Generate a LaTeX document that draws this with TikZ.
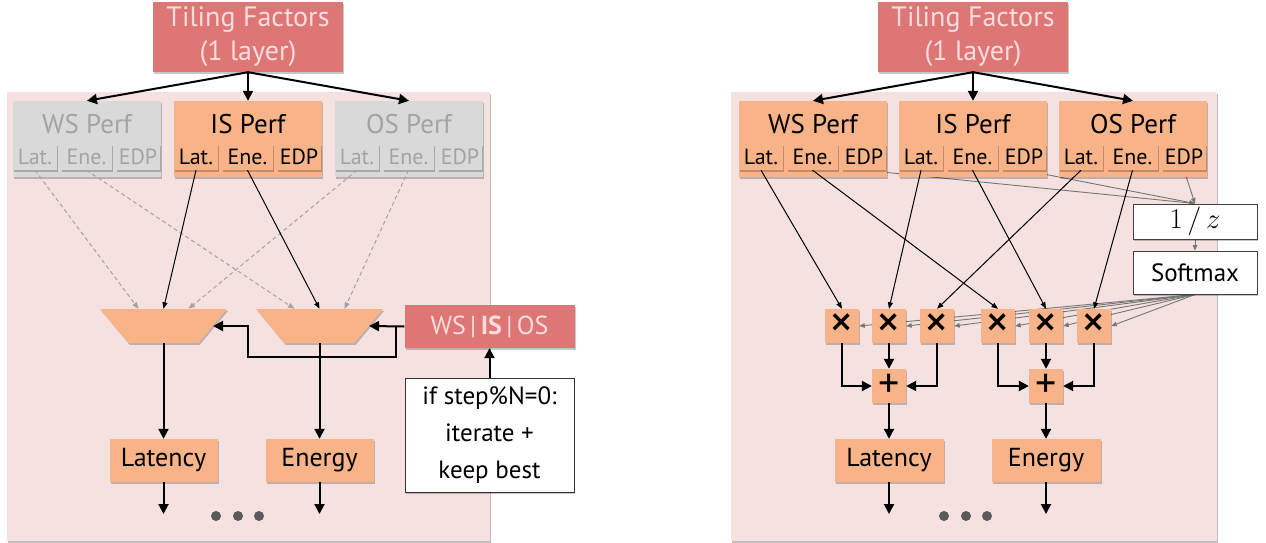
\documentclass[tikz,border=0pt]{standalone}
\usepackage[no-math]{fontspec}
\setmainfont{PT Sans}
\usetikzlibrary{positioning,arrows.meta,shapes.geometric,shadows,calc,backgrounds}

\definecolor{tilered}{HTML}{DD7675}
\definecolor{tiletext}{HTML}{FADDDC}
\definecolor{peach}{HTML}{F8B488}
\definecolor{panelbg}{HTML}{F4E1E0}
\definecolor{offfill}{HTML}{D9D9D9}
\definecolor{offtext}{HTML}{A3A3A3}
\definecolor{wiregray}{HTML}{767676}
\definecolor{dotgray}{HTML}{5A5A5A}

\tikzset{
  box/.style={inner sep=0pt, drop shadow={shadow xshift=1.2pt, shadow yshift=-1.8pt, opacity=0.22, fill=black}},
  tiling/.style={box, fill=tilered, text=tiletext, minimum width=190pt, minimum height=70pt, align=center, font=\fontsize{28}{34}\selectfont},
  perf/.style={box, fill=peach, minimum width=148pt, minimum height=76pt},
  perfoff/.style={perf, fill=offfill},
  perftitle/.style={inner sep=0pt, font=\fontsize{27}{32}\selectfont},
  metric/.style={box, fill=peach, minimum height=26pt, font=\fontsize{22}{26}\selectfont},
  metricoff/.style={metric, fill=offfill, text=offtext},
  narrow/.style={minimum width=44pt},
  wide/.style={minimum width=51pt},
  mux/.style={box, inner sep=3pt, fill=peach, trapezium, shape border rotate=180, trapezium stretches=true, trapezium angle=68, minimum width=127pt, minimum height=34pt},
  result/.style={box, fill=peach, minimum width=108pt, minimum height=43pt, font=\fontsize{26}{30}\selectfont},
  select/.style={box, fill=tilered, text=tiletext, minimum width=170pt, minimum height=43pt, font=\fontsize{26}{30}\selectfont},
  note/.style={box, fill=white, draw=black!80, line width=1pt, minimum width=169pt, minimum height=114pt, align=center, font=\fontsize{25}{37}\selectfont},
  op/.style={box, fill=peach, minimum size=34pt},
  mul/.style={op, font=\fontsize{48}{48}\selectfont},
  add/.style={op, font=\fontsize{42}{42}\selectfont},
  calcbox/.style={box, fill=white, draw=black!75, line width=1pt, minimum width=124pt, font=\fontsize{25}{30}\selectfont},
  bigarrow/.style={-{Triangle[width=10pt,length=10pt]}, line width=2pt},
  wire/.style={-{Triangle[width=5pt,length=6.5pt]}, line width=1pt},
  offwire/.style={wire, draw=offtext, dash pattern=on 4pt off 3pt},
  graywire/.style={-{Triangle[width=4.5pt,length=5.5pt]}, draw=wiregray, line width=0.9pt},
  panel/.style={fill=panelbg, drop shadow={shadow xshift=1.2pt, shadow yshift=-1.5pt, opacity=0.25, fill=black}}
}

\begin{document}
\begin{tikzpicture}[x=1pt, y=-1pt]
\useasboundingbox (0,0) rectangle (1266,543);

% ---- left: one dataflow picked per step ----
\node (tfL) [tiling] at (248,37) {Tiling Factors\\(1 layer)};

\node (wsL) [perfoff] at (87,139) {};
\node (wsLt) [perftitle, text=offtext] at (87,124) {WS Perf};
\node (wsLlat) [metricoff, narrow] at (35,157) {Lat.};
\node (wsLene) [metricoff, wide] at (86.5,157) {Ene.};
\node (wsLedp) [metricoff, narrow] at (138,157) {EDP};

\node (isL) [perf] at (248,139) {};
\node (isLt) [perftitle] at (248,124) {IS Perf};
\node (isLlat) [metric, narrow] at (196,157) {Lat.};
\node (isLene) [metric, wide] at (247.5,157) {Ene.};
\node (isLedp) [metric, narrow] at (299,157) {EDP};

\node (osL) [perfoff] at (409,139) {};
\node (osLt) [perftitle, text=offtext] at (409,124) {OS Perf};
\node (osLlat) [metricoff, narrow] at (357,157) {Lat.};
\node (osLene) [metricoff, wide] at (408.5,157) {Ene.};
\node (osLedp) [metricoff, narrow] at (460,157) {EDP};

\node (muxA) [mux] at (163.5,326) {};
\node (muxB) [mux] at (319.5,326) {};
\node (selL) [select] at (489.5,326.5) {WS\,|\,\textbf{IS}\,|\,OS};
\node (ifL) [note] at (489.5,435) {if step\%N=0:\\iterate +\\keep best};

\node (latL) [result] at (163.5,460.5) {Latency};
\node (enL) [result] at (319.5,460.5) {Energy};

\coordinate (fbL) at (396,326.5);
\coordinate (fbTurn) at (248,357);
\coordinate (latLout) at (163.5,514);
\coordinate (enLout) at (319.5,514);

\draw [bigarrow] (tfL.south) -- (wsL.north);
\draw [bigarrow] (tfL.south) -- (isL.north);
\draw [bigarrow] (tfL.south) -- (osL.north);

\draw [offwire] (wsLlat.south) -- ($(muxA.north)+(-25,0)$);
\draw [offwire] (wsLene.south) -- ($(muxB.north)+(-25,0)$);
\draw [offwire] (osLlat.south) -- ($(muxA.north)+(25,0)$);
\draw [offwire] (osLene.south) -- ($(muxB.north)+(25,0)$);
\draw [wire] (isLlat.south) -- (muxA.north);
\draw [wire] (isLene.south) -- (muxB.north);

\draw [bigarrow] (selL.west) -- (muxB.east);
\draw [bigarrow] (fbL) |- (fbTurn) |- (muxA.east);
\draw [bigarrow] (ifL.north) -- (selL.south);

\draw [bigarrow] (muxA.south) -- (latL.north);
\draw [bigarrow] (muxB.south) -- (enL.north);
\draw [bigarrow] (latL.south) -- (latLout);
\draw [bigarrow] (enL.south) -- (enLout);

\fill [dotgray] (216,516) circle (5) (238,516) circle (5) (259,516) circle (5);

% ---- right: soft mix of all three dataflows ----
\node (tfR) [tiling] at (973,37) {Tiling Factors\\(1 layer)};

\node (wsR) [perf] at (813,139) {};
\node (wsRt) [perftitle] at (813,124) {WS Perf};
\node (wsRlat) [metric, narrow] at (761,157) {Lat.};
\node (wsRene) [metric, wide] at (812.5,157) {Ene.};
\node (wsRedp) [metric, narrow] at (864,157) {EDP};

\node (isR) [perf] at (973,139) {};
\node (isRt) [perftitle] at (973,124) {IS Perf};
\node (isRlat) [metric, narrow] at (921,157) {Lat.};
\node (isRene) [metric, wide] at (972.5,157) {Ene.};
\node (isRedp) [metric, narrow] at (1024,157) {EDP};

\node (osR) [perf] at (1133,139) {};
\node (osRt) [perftitle] at (1133,124) {OS Perf};
\node (osRlat) [metric, narrow] at (1081,157) {Lat.};
\node (osRene) [metric, wide] at (1132.5,157) {Ene.};
\node (osRedp) [metric, narrow] at (1184,157) {EDP};

\node (invz) [calcbox, minimum height=35pt] at (1195,221.5) {\scalebox{1.15}{$1\,/\,z$}};
\node (soft) [calcbox, minimum height=43pt] at (1195,272.5) {Softmax};

\node (m1) [mul] at (842,326) {×};
\node (m2) [mul] at (889,326) {×};
\node (m3) [mul] at (937,326) {×};
\node (m4) [mul] at (998,326) {×};
\node (m5) [mul] at (1046,326) {×};
\node (m6) [mul] at (1094,326) {×};
\node (p1) [add] at (889,386) {+};
\node (p2) [add] at (1046,386) {+};

\node (latR) [result, minimum width=109pt] at (889,460.5) {Latency};
\node (enR) [result, minimum width=109pt] at (1046,460.5) {Energy};

\coordinate (latRout) at (889,514);
\coordinate (enRout) at (1046,514);

\draw [bigarrow] (tfR.south) -- (wsR.north);
\draw [bigarrow] (tfR.south) -- (isR.north);
\draw [bigarrow] (tfR.south) -- (osR.north);

\draw [wire] (wsRlat.south) -- (m1.north);
\draw [wire] (isRlat.south) -- (m2.north);
\draw [wire] (osRlat.south) -- (m3.north);
\draw [wire] (wsRene.south) -- (m4.north);
\draw [wire] (isRene.south) -- (m5.north);
\draw [wire] (osRene.south) -- (m6.north);

\draw [bigarrow] (m1.south) |- (p1.west);
\draw [bigarrow] (m2.south) -- (p1.north);
\draw [bigarrow] (m3.south) |- (p1.east);
\draw [bigarrow] (m4.south) |- (p2.west);
\draw [bigarrow] (m5.south) -- (p2.north);
\draw [bigarrow] (m6.south) |- (p2.east);

\draw [bigarrow] (p1.south) -- (latR.north);
\draw [bigarrow] (p2.south) -- (enR.north);
\draw [bigarrow] (latR.south) -- (latRout);
\draw [bigarrow] (enR.south) -- (enRout);

\fill [dotgray] (944,516) circle (5) (966,516) circle (5) (987,516) circle (5);

\begin{pgfonlayer}{background}
\fill [panel] (7,92) rectangle (490,541);
\fill [panel] (731,92) rectangle (1217,541);

% weights: EDP -> 1/z -> softmax -> every multiplier
\draw [graywire] (wsRedp.south) -- (invz.north);
\draw [graywire] (isRedp.south) -- (invz.north);
\draw [graywire] (osRedp.south) -- (invz.north);
\draw [graywire] (invz.south) -- (soft.north);
\draw [graywire] (soft.south) -- (m1.east);
\draw [graywire] (soft.south) -- (m2.east);
\draw [graywire] (soft.south) -- (m3.east);
\draw [graywire] (soft.south) -- (m4.east);
\draw [graywire] (soft.south) -- (m5.east);
\draw [graywire] (soft.south) -- (m6.east);
\end{pgfonlayer}
\end{tikzpicture}
\end{document}
